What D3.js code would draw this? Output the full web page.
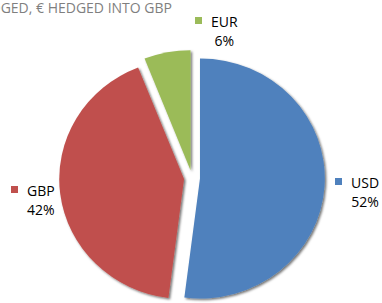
<!DOCTYPE html>
<html>
<head>
<meta charset="utf-8">
<script src="https://d3js.org/d3.v7.min.js"></script>
<style>
body{margin:0;background:#fff}
svg{display:block}
</style>
</head>
<body>
<svg id="chart"></svg>
<script>
var width = 382, height = 303;

// data
var currencies = ["USD", "GBP", "EUR"];
var shares = [52, 42, 6];
var colours = ["#4f81bd", "#c0504d", "#9bbb59"];
var title = "$ UNHEDGED, € HEDGED INTO GBP";

var cx = 192, cy = 178, r = 120, squash = 1.04;
var explode = 8;

// where excel dropped the data labels
var labelAt = {
  USD: {x: 335, y: 188},
  GBP: {x: 11, y: 196},
  EUR: {x: 195, y: 27}
};

var svg = d3.select("#chart")
  .attr("width", width)
  .attr("height", height);

var defs = svg.append("defs");
var f = defs.append("filter").attr("id", "shadow")
  .attr("x", "-10%").attr("y", "-10%").attr("width", "120%").attr("height", "120%");
f.append("feDropShadow")
  .attr("dx", 1.5).attr("dy", 1.5).attr("stdDeviation", 1)
  .attr("flood-color", "#000").attr("flood-opacity", 0.55);

svg.append("text")
  .attr("x", 172).attr("y", 13)
  .attr("text-anchor", "end")
  .attr("fill", "#7f7f7f")
  .style("font-family", "'Open Sans', sans-serif")
  .style("font-size", "14px")
  .text(title);

var data = currencies.map(function(c, i){ return {name: c, value: shares[i], colour: colours[i]}; });

var pie = d3.pie().sort(null).value(function(d){ return d.value; });
var arc = d3.arc().innerRadius(0).outerRadius(r);

var slices = pie(data);

var g = svg.append("g");

g.selectAll("path")
  .data(slices)
  .enter()
  .append("path")
  .attr("d", arc)
  .attr("fill", function(d){ return d.data.colour; })
  .attr("filter", "url(#shadow)")
  .attr("transform", function(d){
    var mid = (d.startAngle + d.endAngle) / 2;
    var dx = Math.sin(mid) * explode, dy = -Math.cos(mid) * explode;
    return "translate(" + (cx + dx) + "," + (cy + dy) + ") scale(" + squash + ",1)";
  });

var fmt = function(v){ return v + "%"; };

slices.forEach(function(s){
  var p = labelAt[s.data.name];
  svg.append("rect")
    .attr("x", p.x).attr("y", p.y - 10)
    .attr("width", 7).attr("height", 7)
    .attr("fill", s.data.colour);
  var name = svg.append("text")
    .attr("x", p.x + 16).attr("y", p.y)
    .attr("fill", "#000")
    .style("font-family", "'Open Sans', sans-serif")
    .style("font-size", "14px")
    .text(s.data.name);
  var mid = p.x + 16 + name.node().getComputedTextLength() / 2;
  svg.append("text")
    .attr("x", mid).attr("y", p.y + 19)
    .attr("text-anchor", "middle")
    .attr("fill", "#000")
    .style("font-family", "'Open Sans', sans-serif")
    .style("font-size", "14px")
    .text(fmt(s.data.value));
});
</script>
</body>
</html>
